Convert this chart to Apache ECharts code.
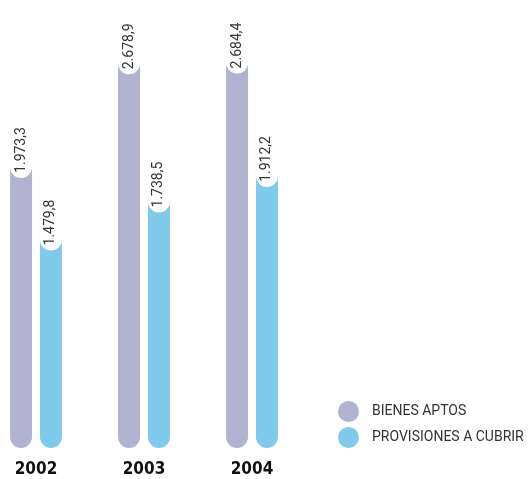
<!DOCTYPE html>
<html>
<head>
<meta charset="utf-8">
<script src="https://cdn.jsdelivr.net/npm/echarts@6/dist/echarts.min.js"></script>
<style>
  html, body { margin: 0; padding: 0; background: #fff; }
  #chart { width: 531px; height: 479px; }
</style>
</head>
<body>
<div id="chart"></div>
<script>
const years = ['2002', '2003', '2004'];
const bienesAptos = [1973.3, 2678.9, 2684.4];
const provisiones = [1479.8, 1738.5, 1912.2];

// 1973.3 -> "1.973,3"
function fmt(v) {
  const parts = v.toFixed(1).split('.');
  return parts[0].replace(/\B(?=(\d{3})+(?!\d))/g, '.') + ',' + parts[1];
}

const chart = echarts.init(document.getElementById('chart'));

const barLabel = {
  show: true,
  position: 'insideTop',
  distance: 20,
  rotate: 90,
  align: 'left',
  verticalAlign: 'middle',
  color: '#333',
  fontSize: 14,
  lineHeight: 14,
  fontFamily: 'Roboto, sans-serif',
  backgroundColor: '#fff',
  borderRadius: 11,
  padding: [4, 6, 4, 5],
  formatter: p => fmt(p.value)
};

chart.setOption({
  animation: false,
  grid: { left: -18, width: 324, top: 7, bottom: 31, outerBoundsMode: 'none' },
  legend: {
    orient: 'vertical',
    left: 333,
    top: 396,
    icon: 'circle',
    itemWidth: 21,
    itemHeight: 21,
    itemGap: 5,
    textStyle: { color: '#333', fontSize: 14, fontFamily: 'Roboto, sans-serif', padding: [0, 0, 0, 8] },
    data: ['BIENES APTOS', 'PROVISIONES A CUBRIR']
  },
  xAxis: {
    type: 'category',
    data: years,
    axisLine: { show: false },
    axisTick: { show: false },
    axisLabel: {
      margin: 13,
      color: '#111',
      fontSize: 17,
      fontWeight: 'bold',
      fontFamily: '"DejaVu Sans Condensed", "Liberation Sans Narrow", sans-serif'
    }
  },
  yAxis: {
    type: 'value',
    min: 0,
    max: 3000,
    show: false
  },
  series: [
    {
      name: 'BIENES APTOS',
      type: 'bar',
      data: bienesAptos,
      barWidth: 22,
      barGap: '36%',
      itemStyle: { color: '#b2b3d0', borderRadius: 11 },
      label: barLabel
    },
    {
      name: 'PROVISIONES A CUBRIR',
      type: 'bar',
      data: provisiones,
      barWidth: 22,
      itemStyle: { color: '#80caec', borderRadius: 11 },
      label: barLabel
    }
  ]
});
</script>
</body>
</html>
